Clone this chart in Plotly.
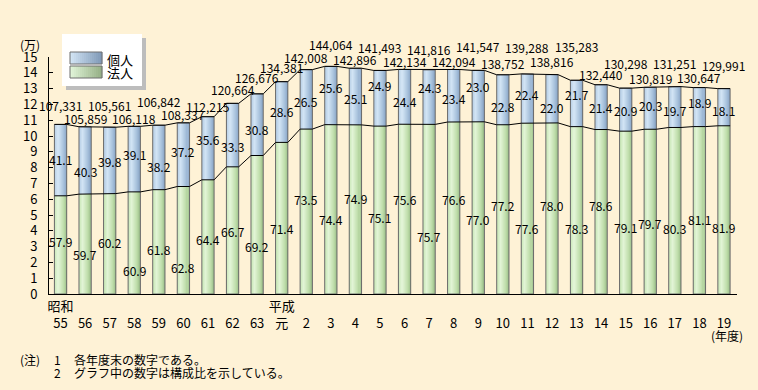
import plotly.graph_objects as go
import numpy as np

# ---------------- data ----------------
year_labels = ["昭和<br>55", "<br>56", "<br>57", "<br>58", "<br>59", "<br>60", "<br>61", "<br>62", "<br>63",
               "平成<br>元", "<br>2", "<br>3", "<br>4", "<br>5", "<br>6", "<br>7", "<br>8", "<br>9", "<br>10",
               "<br>11", "<br>12", "<br>13", "<br>14", "<br>15", "<br>16", "<br>17", "<br>18", "<br>19"]
totals = [107331, 105859, 105561, 106118, 106842, 108337, 112215, 120664, 126676, 134381,
          142008, 144064, 142896, 141493, 142134, 141816, 142094, 141547, 138752, 139288,
          138816, 135283, 132440, 130298, 130819, 131251, 130647, 129991]
individual_pct = [41.1, 40.3, 39.8, 39.1, 38.2, 37.2, 35.6, 33.3, 30.8, 28.6,
                  26.5, 25.6, 25.1, 24.9, 24.4, 24.3, 23.4, 23.0, 22.8, 22.4,
                  22.0, 21.7, 21.4, 20.9, 20.3, 19.7, 18.9, 18.1]
corporate_pct = [57.9, 59.7, 60.2, 60.9, 61.8, 62.8, 64.4, 66.7, 69.2, 71.4,
                 73.5, 74.4, 74.9, 75.1, 75.6, 75.7, 76.6, 77.0, 77.2, 77.6,
                 78.0, 78.3, 78.6, 79.1, 79.7, 80.3, 81.1, 81.9]

# ---------------- label offsets (style, pixels) ----------------
total_shift = [18.7, 8.7, 21.5, 8.3, 23.8, 8.1, 10.3, 13.6, 16.5, 13.7, 12.6, 21.7, 8.5, 23.4,
               8, 20.2, 8.1, 23.4, 11.1, 26.9, 13.3, 33.3, 10, 25.1, 9.3, 23.6, 9.6, 22.9]
ind_shift = [0.4, -11, -1, 4.4, -9, 3.3, 8.6, -11.3, -5, 0.6, -2, 8.5, -2.4, 12.6, -4.6, 9.2,
             -3.2, 9.1, -7.2, 3.9, -8.2, 8.7, 0, -1.1, 2.6, -3.6, 4.7, -3.5]
corp_shift = [3.5, -10.6, 1.4, -27.5, -7.2, -27.7, -2.8, -1, -21.7, -9.8, 12.5, -9.7, 11.4, -7.9,
              9.4, -27.2, 9, -11.8, 3.7, -19.4, 2.8, -17.7, 6.1, -15.4, -11.4, -17.3, -9.4, -18.1]

FONT = "Noto Sans CJK JP"
BG = "#fef2d6"
W, H = 758, 390
ML, MR, MT, MB = 49, 21, 57, 96

n = len(totals)
xi = np.arange(n)
T = np.array(totals) / 10000.0
G = T * np.array(corporate_pct) / 100.0
B = T - G

BAR_W = 0.5
NSTRIP = 12


def hex2rgb(h):
    h = h.lstrip("#")
    return [int(h[i:i + 2], 16) for i in (0, 2, 4)]


def grad(stops, u):
    for (u0, c0), (u1, c1) in zip(stops[:-1], stops[1:]):
        if u0 <= u <= u1:
            t = (u - u0) / (u1 - u0) if u1 > u0 else 0
            a, b = hex2rgb(c0), hex2rgb(c1)
            return "rgb(%d,%d,%d)" % tuple(round(a[k] + (b[k] - a[k]) * t) for k in range(3))
    return stops[-1][1]


blue_stops = [(0, "#b4cce4"), (0.3, "#d2e4f4"), (0.75, "#a4beda"), (1, "#86a2c2")]
green_stops = [(0, "#c6e6b4"), (0.3, "#e2f4d6"), (0.75, "#bcdca8"), (1, "#98ba86")]

fig = go.Figure()
sw = BAR_W / NSTRIP
for k in range(NSTRIP):
    u = (k + 0.5) / NSTRIP
    fig.add_trace(go.Bar(x=xi, y=G, base=0, width=sw, offset=-BAR_W / 2 + k * sw,
                         marker=dict(color=grad(green_stops, u), line=dict(width=0)),
                         hoverinfo="skip", showlegend=False))
    fig.add_trace(go.Bar(x=xi, y=B, base=G, width=sw, offset=-BAR_W / 2 + k * sw,
                         marker=dict(color=grad(blue_stops, u), line=dict(width=0)),
                         hoverinfo="skip", showlegend=False))
# outline
fig.add_trace(go.Bar(x=xi, y=T, base=0, width=BAR_W, offset=-BAR_W / 2,
                     marker=dict(color="rgba(0,0,0,0)", line=dict(color="#6a6a6a", width=1)),
                     hoverinfo="skip", showlegend=False))

# connecting lines
lx = np.ravel(np.column_stack([xi - BAR_W / 2, xi + BAR_W / 2]))
fig.add_trace(go.Scatter(x=lx, y=np.repeat(T, 2), mode="lines", line=dict(color="black", width=1),
                         hoverinfo="skip", showlegend=False))
fig.add_trace(go.Scatter(x=lx, y=np.repeat(G, 2), mode="lines", line=dict(color="black", width=1),
                         hoverinfo="skip", showlegend=False))

ann = []
for i in range(n):
    ann.append(dict(x=i, y=T[i], text=f"{totals[i]:,}", yshift=total_shift[i], showarrow=False,
                    yanchor="middle", xanchor="center", font=dict(size=12, color="black", family=FONT)))
    ann.append(dict(x=i, y=(G[i] + T[i]) / 2, text=f"{individual_pct[i]:.1f}", yshift=ind_shift[i],
                    showarrow=False, yanchor="middle", xanchor="center",
                    font=dict(size=12, color="black", family=FONT)))
    ann.append(dict(x=i, y=G[i] / 2, text=f"{corporate_pct[i]:.1f}", yshift=corp_shift[i],
                    showarrow=False, yanchor="middle", xanchor="center",
                    font=dict(size=12, color="black", family=FONT)))

PW, PH = W - ML - MR, H - MT - MB


def px(xp):
    return (xp - ML) / PW


def py(yp):
    return (H - MB - yp) / PH


def txt(xp, yp, s, size=12, xa="left"):
    ann.append(dict(xref="paper", yref="paper", x=px(xp), y=py(yp), text=s, showarrow=False,
                    xanchor=xa, yanchor="middle", font=dict(size=size, color="black", family=FONT)))


txt(30, 44, "(万)", 12, "center")
txt(727, 335, "(年度)", 12, "center")
txt(18, 359, "(注)", 12)
txt(52, 359, "1", 12)
txt(72, 359, "各年度末の数字である。", 12)
txt(52, 372, "2", 12)
txt(72, 372, "グラフ中の数字は構成比を示している。", 12)
txt(105, 59, "個人", 13)
txt(105, 73, "法人", 13)

shapes = []


def rect(x0, y0, x1, y1, fill, line=None):
    shapes.append(dict(type="rect", xref="paper", yref="paper", x0=px(x0), x1=px(x1),
                       y0=py(y1), y1=py(y0), fillcolor=fill,
                       line=dict(width=1 if line else 0, color=line or fill)))


rect(66, 38, 146, 90, "#bdbdbd")
rect(62, 34, 142, 86, "#ffffff")
leg_blue = [(0, "#d4e6f6"), (1, "#7e98b6")]
leg_green = [(0, "#e2f6da"), (1, "#94ae84")]
NS = 16
for k in range(NS):
    a = 70 + 32 * k / NS
    b = 70 + 32 * (k + 1) / NS
    rect(a, 52, b + 0.3, 64, grad(leg_blue, (k + 0.5) / NS))
    rect(a, 66, b + 0.3, 78, grad(leg_green, (k + 0.5) / NS))
rect(70, 52, 102, 64, "rgba(0,0,0,0)", "#6e6e6e")
rect(70, 66, 102, 78, "rgba(0,0,0,0)", "#6e6e6e")

fig.update_layout(
    width=W, height=H, autosize=False,
    margin=dict(l=ML, r=MR, t=MT, b=MB, pad=0),
    paper_bgcolor=BG, plot_bgcolor=BG,
    barmode="overlay", bargap=0,
    font=dict(family=FONT, size=12, color="black"),
    annotations=ann, shapes=shapes,
    xaxis=dict(range=[-0.47, n - 0.47], tickvals=list(xi), ticktext=year_labels,
               showline=True, linecolor="black", linewidth=1, ticks="", showgrid=False,
               zeroline=False, tickfont=dict(size=13, family=FONT), fixedrange=True),
    yaxis=dict(range=[0, 15], dtick=1, tick0=0, ticks="inside", ticklen=4, tickcolor="black",
               showline=True, linecolor="black", linewidth=1, showgrid=False, zeroline=False,
               tickfont=dict(size=13, family=FONT), ticklabelstandoff=8, fixedrange=True),
)

fig.write_html("out.html", config={"displayModeBar": False, "staticPlot": True},
               post_script="document.body.style.margin='0';document.body.style.background='%s';" % BG)
